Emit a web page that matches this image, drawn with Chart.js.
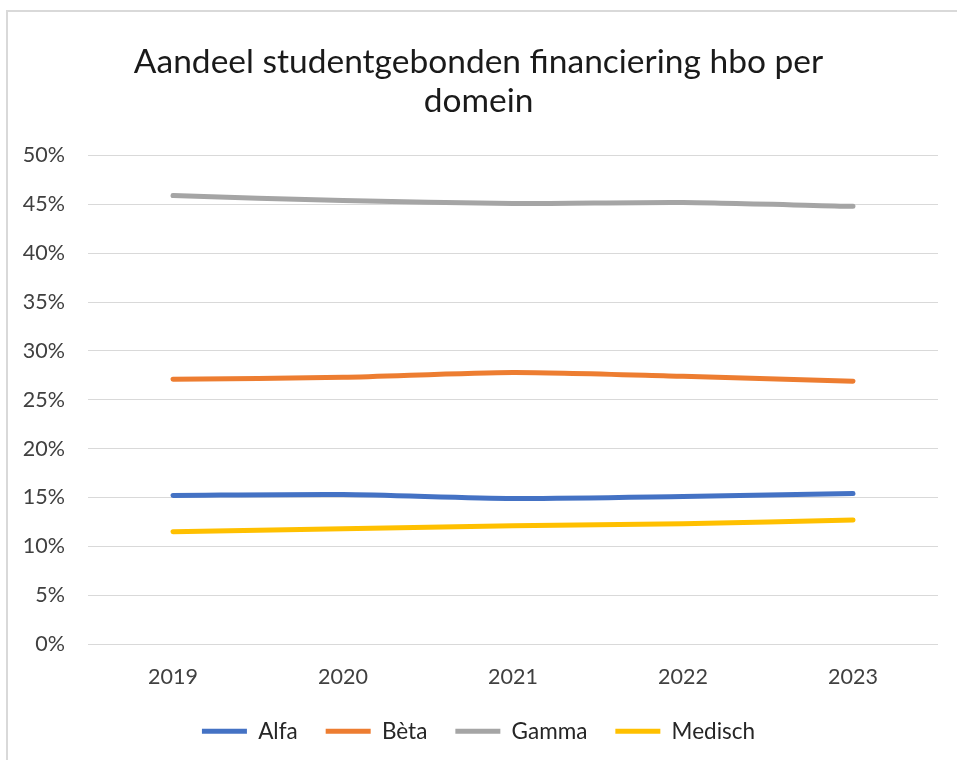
<!DOCTYPE html>
<html>
<head>
<meta charset="utf-8">
<script src="https://cdn.jsdelivr.net/npm/chart.js@4.4.0/dist/chart.umd.min.js"></script>
<style>
    body { margin: 0; background: #fff; }
    #frame {
        position: absolute; left: 6px; top: 10px;
        width: 980px; height: 780px;
        border: 2px solid #d9d9d9;
    }
    #wrap { position: absolute; left: 0; top: 0; width: 957px; height: 760px; }
</style>
</head>
<body>
<div id="frame"></div>
<div id="wrap"><canvas id="lineChart" width="957" height="760"></canvas></div>
<script>
// Chart data
const years = ['2019', '2020', '2021', '2022', '2023'];
const alfa = [15.2, 15.3, 14.9, 15.1, 15.4];
const beta = [27.1, 27.3, 27.8, 27.4, 26.9];
const gamma = [45.9, 45.4, 45.1, 45.2, 44.8];
const medisch = [11.5, 11.8, 12.1, 12.3, 12.7];
const titleLines = ['Aandeel studentgebonden financiering hbo per', 'domein'];

const fontFamily = 'Lato, "Open Sans", sans-serif';

function makeSeries(label, data, color) {
    return {
        label: label,
        data: data,
        borderColor: color,
        backgroundColor: color,
        borderWidth: 5,
        borderCapStyle: 'round',
        borderJoinStyle: 'round',
        pointRadius: 0,
        pointHoverRadius: 0,
        tension: 0.25,
        fill: false
    };
}

const ctx = document.getElementById('lineChart').getContext('2d');
const myLineChart = new Chart(ctx, {
    type: 'line',
    data: {
        labels: years,
        datasets: [
            makeSeries('Alfa', alfa, '#4472C4'),
            makeSeries('Bèta', beta, '#ED7D31'),
            makeSeries('Gamma', gamma, '#A5A5A5'),
            makeSeries('Medisch', medisch, '#FFC000')
        ]
    },
    options: {
        responsive: false,
        animation: false,
        layout: {
            padding: { left: 19, right: 19, top: 0, bottom: 7.5 }
        },
        scales: {
            x: {
                offset: true,
                grid: { display: false, drawTicks: false },
                border: { display: false },
                afterFit: (scale) => { scale.height = 48; },
                ticks: {
                    color: '#404040',
                    font: { family: fontFamily, size: 21.5 },
                    padding: 20
                }
            },
            y: {
                min: 0,
                max: 50,
                grid: { color: '#d9d9d9', lineWidth: 1, drawTicks: false },
                border: { display: false },
                afterFit: (scale) => { scale.width = 69; },
                ticks: {
                    stepSize: 5,
                    color: '#404040',
                    padding: 23,
                    font: { family: fontFamily, size: 21.5 },
                    callback: (v) => v + '%'
                }
            }
        },
        plugins: {
            title: {
                display: true,
                text: titleLines,
                color: '#1a1a1a',
                font: { family: fontFamily, size: 33.5, weight: 'normal', lineHeight: 1.15 },
                padding: { top: 43, bottom: 35.5 }
            },
            legend: {
                position: 'bottom',
                labels: {
                    color: '#262626',
                    font: { family: fontFamily, size: 22.5 },
                    boxWidth: 45,
                    boxHeight: 5,
                    padding: 28,
                    generateLabels: (chart) => chart.data.datasets.map((ds, i) => ({
                        text: ds.label,
                        fillStyle: ds.borderColor,
                        strokeStyle: ds.borderColor,
                        lineWidth: 0,
                        fontColor: '#262626',
                        hidden: false,
                        datasetIndex: i
                    }))
                }
            },
            tooltip: { enabled: false }
        }
    }
});
</script>
</body>
</html>
